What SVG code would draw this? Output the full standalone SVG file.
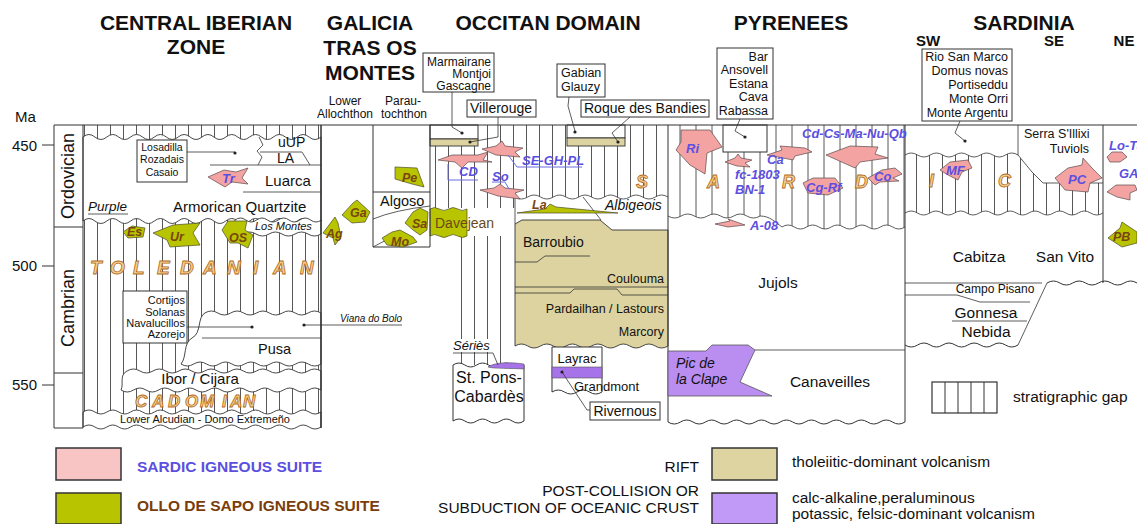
<svg xmlns="http://www.w3.org/2000/svg" width="1137" height="524" viewBox="0 0 1137 524">
<defs>
<style>
text{font-family:"Liberation Sans",Arial,sans-serif;fill:#111}
.title{font-weight:bold;font-size:21px}
.sub{font-weight:bold;font-size:15px}
.ln{stroke:#333;stroke-width:1;fill:none}
.thin{stroke:#333;stroke-width:0.8;fill:none}
.wh{fill:#fff;stroke:#333;stroke-width:0.9}
.bx{fill:#fff;stroke:#333;stroke-width:1}
.pk{fill:#f4a3a3;stroke:#5a4a4a;stroke-width:0.7}
.gr{fill:#b8c400;stroke:#4a4a2a;stroke-width:0.7}
.tan{fill:#dcd3a0;stroke:#333;stroke-width:0.9}
.pur{fill:#b98ef0;stroke:#555;stroke-width:0.8}
.big{font-weight:bold;font-style:italic;fill:#f5cf90;stroke:#b06a20;stroke-width:0.8}
.lb{fill:#5b4fe0;font-weight:bold;font-style:italic;font-size:13px}
.lg{fill:#7a4510;font-weight:bold;font-style:italic;font-size:12.5px}
.blue{stroke:#6a6ae0;stroke-width:1;fill:none}
.hl{stroke:#444;stroke-width:0.9}
.dot{fill:#222}
</style>
<pattern id="h13" patternUnits="userSpaceOnUse" width="13" height="20"><path d="M6.5,0V20" stroke="#444" stroke-width="0.9"/></pattern>
<pattern id="h16" patternUnits="userSpaceOnUse" width="16" height="20"><path d="M8,0V20" stroke="#444" stroke-width="0.9"/></pattern>
</defs>
<rect width="1137" height="524" fill="#fff"/>

<g id="titles">
<text class="title" x="196" y="30" text-anchor="middle">CENTRAL IBERIAN</text>
<text class="title" x="196" y="54" text-anchor="middle">ZONE</text>
<text class="title" x="370" y="30" text-anchor="middle">GALICIA</text>
<text class="title" x="370" y="55" text-anchor="middle">TRAS OS</text>
<text class="title" x="370" y="80" text-anchor="middle">MONTES</text>
<text class="title" x="548" y="30" text-anchor="middle">OCCITAN DOMAIN</text>
<text class="title" x="791" y="30" text-anchor="middle">PYRENEES</text>
<text class="title" x="1024" y="30" text-anchor="middle">SARDINIA</text>
<text class="sub" x="928" y="46" text-anchor="middle">SW</text>
<text class="sub" x="1054" y="46" text-anchor="middle">SE</text>
<text class="sub" x="1124" y="46" text-anchor="middle">NE</text>
</g>

<g id="age-axis">
<text x="15" y="122" font-size="15">Ma</text>
<text x="37" y="151" font-size="15" text-anchor="end">450</text>
<text x="37" y="271" font-size="15" text-anchor="end">500</text>
<text x="37" y="390" font-size="15" text-anchor="end">550</text>
<path class="ln" d="M42,145H54M42,266H54M42,385H54"/>
<path class="ln" d="M54,125V428H83M54,227H83M54,373H83"/>
<text transform="translate(74,176) rotate(-90)" font-size="18" text-anchor="middle">Ordovician</text>
<text transform="translate(74,308) rotate(-90)" font-size="18" text-anchor="middle">Cambrian</text>
</g>

<g id="central-iberian">
<rect x="83" y="125" width="238" height="299" fill="url(#h13)"/>
<path class="wh" d="M83,137 q5.95,-5 11.9,0 t11.9,0 t11.9,0 t11.9,0 t11.9,0 t11.9,0 t11.9,0 t11.9,0 t11.9,0 t11.9,0 t11.9,0 t11.9,0 t11.9,0 t11.9,0 t11.9,0 t11.9,0 t11.9,0 t11.9,0 t11.9,0 t11.9,0 L321,137 L321,221 q-5.95,5 -11.9,0 t-11.9,0 t-11.9,0 t-11.9,0 t-11.9,0 t-11.9,0 t-11.9,0 t-11.9,0 t-11.9,0 t-11.9,0 t-11.9,0 t-11.9,0 t-11.9,0 t-11.9,0 t-11.9,0 t-11.9,0 t-11.9,0 t-11.9,0 t-11.9,0 t-11.9,0 L83,221 Z"/>
<path class="wh" d="M235,220 q5.4,-4 10.8,0 t10.8,0 t10.8,0 t10.8,0 t10.8,0 t10.8,0 t10.8,0 t10.8,0 L321,220 L321,234 q-6.5,4 -13,0 t-13,0 t-13,0 t-13,0 t-13,0 t-13,0 L243,234 C236,232 233,226 235,220 Z"/>
<path class="wh" d="M321,313 q-6.45,-4 -12.9,0 t-12.9,0 t-12.9,0 t-12.9,0 t-12.9,0 t-12.9,0 t-12.9,0 t-12.9,0 t-12.9,0 L205,313 C197,317 202,333 192,338 C183,343 187,357 181,364 q6.36,4 12.73,0 t12.73,0 t12.73,0 t12.73,0 t12.73,0 t12.73,0 t12.73,0 t12.73,0 t12.73,0 t12.73,0 t12.73,0 L321,364 Z"/>
<path class="wh" d="M321,371 q-6.47,-4 -12.93,0 t-12.93,0 t-12.93,0 t-12.93,0 t-12.93,0 t-12.93,0 t-12.93,0 t-12.93,0 t-12.93,0 t-12.93,0 t-12.93,0 t-12.93,0 t-12.93,0 t-12.93,0 t-12.93,0 L127,371 C119,375 124,384 121,390 q6.25,4 12.5,0 t12.5,0 t12.5,0 t12.5,0 t12.5,0 t12.5,0 t12.5,0 t12.5,0 t12.5,0 t12.5,0 t12.5,0 t12.5,0 t12.5,0 t12.5,0 t12.5,0 t12.5,0 L321,390 Z"/>
<path class="wh" d="M83,412 q5.95,-4 11.9,0 t11.9,0 t11.9,0 t11.9,0 t11.9,0 t11.9,0 t11.9,0 t11.9,0 t11.9,0 t11.9,0 t11.9,0 t11.9,0 t11.9,0 t11.9,0 t11.9,0 t11.9,0 t11.9,0 t11.9,0 t11.9,0 t11.9,0 L321,412 L321,427 q-5.95,4 -11.9,0 t-11.9,0 t-11.9,0 t-11.9,0 t-11.9,0 t-11.9,0 t-11.9,0 t-11.9,0 t-11.9,0 t-11.9,0 t-11.9,0 t-11.9,0 t-11.9,0 t-11.9,0 t-11.9,0 t-11.9,0 t-11.9,0 t-11.9,0 t-11.9,0 t-11.9,0 L83,427 Z"/>
<path class="ln" d="M83,125V428M321,125V428"/>
<path class="thin" d="M259,137 L263,145 L257,151 L262,157 L258,165 M260,152 H302 L310,165 M210,165 H321 M243,192 H321 M202,338 H321"/>
<rect class="bx" x="137" y="140" width="50" height="42"/>
<text x="162" y="151" font-size="10.5" text-anchor="middle">Losadilla</text>
<text x="162" y="163" font-size="10.5" text-anchor="middle">Rozadais</text>
<text x="162" y="176" font-size="10.5" text-anchor="middle">Casaio</text>
<text x="278" y="147" font-size="14">uUP</text>
<text x="277" y="163" font-size="14">LA</text>
<text x="265" y="186" font-size="15">Luarca</text>
<text x="173" y="212" font-size="15">Armorican Quartzite</text>
<text x="88" y="211" font-size="13.5" font-style="italic">Purple</text>
<path class="thin" d="M88,214H128"/>
<text x="255" y="230" font-size="11" font-style="italic">Los Montes</text>
<rect class="bx" x="123" y="291" width="64" height="52"/>
<text x="185" y="304" font-size="11" text-anchor="end">Cortijos</text>
<text x="185" y="316" font-size="11" text-anchor="end">Solanas</text>
<text x="185" y="327" font-size="11" text-anchor="end">Navalucillos</text>
<text x="185" y="338" font-size="11" text-anchor="end">Azorejo</text>
<text x="258" y="354" font-size="14.5">Pusa</text>
<text x="200" y="384" font-size="15" text-anchor="middle">Ibor  /  Cijara</text>
<text x="205" y="423" font-size="11" text-anchor="middle">Lower Alcudian - Domo Extremeño</text>
<text x="340" y="322" font-size="10" font-style="italic">Viana do Bolo</text>
<text class="big" font-size="19" x="90 110 133 157 180 203 227 253 273 300" y="274">TOLEDANIAN</text>
<text class="big" font-size="17" x="135 152 168 185 200 222 230 243" y="407">CADOMIAN</text>
<polygon class="pk" points="208,177 224,170 236,172 248,168 242,178 248,184 232,182 225,187"/>
<text class="lb" x="222" y="183" font-size="12">Tr</text>
<polygon class="gr" points="123,232 132,226 145,228 143,237 128,238"/>
<text class="lg" x="127" y="236">Es</text>
<polygon class="gr" points="153,233 173,225 200,223 193,233 200,245 170,247 167,240"/>
<text class="lg" x="170" y="241">Ur</text>
<polygon class="gr" points="222,230 228,221 247,221 245,230 253,235 248,248 238,243 230,243"/>
<text class="lg" x="229" y="242">OS</text>
</g>

<g id="galicia">
<path class="ln" d="M321,125V428M373,125V247H430M373,192H430"/>
<path class="thin" d="M373,219 Q395,210 430,206 M373,247 L390,238"/>
<text x="345" y="105" font-size="12" text-anchor="middle">Lower</text>
<text x="345" y="118" font-size="12" text-anchor="middle">Allochthon</text>
<text x="403" y="105" font-size="12" text-anchor="middle">Parau-</text>
<text x="404" y="118" font-size="12" text-anchor="middle">tochthon</text>
<text x="380" y="206" font-size="14.5">Algoso</text>
<polygon class="gr" points="323,233 335,217 338,223 341,237 335,245 333,238"/>
<text class="lg" x="326" y="238">Ag</text>
<polygon class="gr" points="342,215 353,203 357,200 370,212 365,222 352,223"/>
<text class="lg" x="350" y="217">Ga</text>
<polygon class="gr" points="395,167 417,168 424,187 412,184 395,179"/>
<text class="lg" x="402" y="182">Pe</text>
<polygon class="gr" points="405,223 413,212 420,208 428,212 427,230 420,235 413,230"/>
<text class="lg" x="412" y="228">Sa</text>
<polygon class="gr" points="382,238 392,232 400,230 413,237 417,242 403,247 387,245"/>
<text class="lg" x="391" y="246">Mo</text>
</g>

<g id="occitan">
<path fill="url(#h13)" d="M430,125 H668 V197 q-6.375,-4 -12.75,0 t-12.75,0 t-12.75,0 t-12.75,0 t-12.75,0 t-12.75,0 t-12.75,0 t-12.75,0 t-12.75,0 t-12.75,0 t-12.75,0 t-12.75,0 L515,197 L515,208 H430 Z"/>
<path class="thin" d="M668,197 q-6.375,-4 -12.75,0 t-12.75,0 t-12.75,0 t-12.75,0 t-12.75,0 t-12.75,0 t-12.75,0 t-12.75,0 t-12.75,0 t-12.75,0 t-12.75,0 t-12.75,0 L515,197"/>
<path class="hl" d="M461.5,236V365M474.5,236V365M487.5,236V365M500.5,236V366"/>
<rect class="bx" x="430" y="125" width="48" height="14"/>
<rect class="tan" x="430" y="139" width="48" height="7"/>
<rect class="bx" x="567" y="125" width="58" height="13"/>
<rect class="tan" x="567" y="138" width="58" height="8"/>
<path class="gr" d="M430,209 q4.6,-3 9.25,0 t9.25,0 t9.25,0 t9.25,0 L467,236 q-4.6,3 -9.25,0 t-9.25,0 t-9.25,0 t-9.25,0 Z"/>
<text x="435" y="228" font-size="14" style="fill:#6b4a17">Davejean</text>
<path class="tan" d="M515,224 L522,220 L600,220 L612,230 L668,230 L668,346 q-6.375,4 -12.75,0 t-12.75,0 t-12.75,0 t-12.75,0 t-12.75,0 t-12.75,0 t-12.75,0 t-12.75,0 t-12.75,0 t-12.75,0 t-12.75,0 t-12.75,0 L515,346 Z"/>
<path class="thin" d="M515,197V224 M583,197 L601,220 M515,262 H537 L545,256 H590 M515,287 H668 M515,293 H570 L574,289 H617 L622,295 H668"/>
<polygon class="gr" points="517,213 545,209 550,204 556,207 618,213"/>
<text class="lg" x="532" y="209">La</text>
<text x="605" y="210" font-size="14" font-style="italic">Albigeois</text>
<text x="523" y="247" font-size="14">Barroubio</text>
<text x="664" y="283" font-size="12.5" text-anchor="end">Coulouma</text>
<text x="664" y="313" font-size="12.5" text-anchor="end">Pardailhan / Lastours</text>
<text x="664" y="336" font-size="12.5" text-anchor="end">Marcory</text>
<path class="bx" d="M552,347 H602 V392 q-6.25,4 -12.5,0 t-12.5,0 t-12.5,0 t-12.5,0 L552,392 Z"/>
<rect x="552" y="367" width="50" height="11" fill="#a673e8" stroke="#555" stroke-width="0.6"/>
<text x="577" y="363" font-size="13" text-anchor="middle">Layrac</text>
<text x="574" y="391" font-size="13">Grandmont</text>
<rect class="bx" x="590" y="402" width="70" height="18"/>
<text x="625" y="416" font-size="14" text-anchor="middle">Rivernous</text>
<path class="bx" d="M453,365 q5.92,-4 11.83,0 t11.83,0 t11.83,0 t11.83,0 t11.83,0 t11.83,0 L524,365 L524,421 q-5.92,4 -11.83,0 t-11.83,0 t-11.83,0 t-11.83,0 t-11.83,0 t-11.83,0 L453,421 Z"/>
<path d="M488,367 C495,362 510,362 524,364 L524,369 C510,368 495,369 488,367 Z" fill="#a673e8" stroke="#555" stroke-width="0.6"/>
<text x="489" y="383" font-size="16" text-anchor="middle">St. Pons-</text>
<text x="489" y="402" font-size="16" text-anchor="middle">Cabardès</text>
<rect x="451" y="339" width="44" height="13" fill="#fff"/>
<text x="453" y="350" font-size="13" font-style="italic">Sériès</text>
<rect class="bx" x="423" y="53" width="71" height="39"/>
<text x="491" y="66" font-size="12" text-anchor="end">Marmairane</text>
<text x="491" y="78" font-size="12" text-anchor="end">Montjoi</text>
<text x="491" y="90" font-size="12" text-anchor="end">Gascagne</text>
<rect class="bx" x="467" y="100" width="69" height="17"/>
<text x="501" y="113" font-size="14" text-anchor="middle">Villerouge</text>
<rect class="bx" x="557" y="64" width="48" height="33"/>
<text x="561" y="77" font-size="12.5">Gabian</text>
<text x="561" y="91" font-size="12.5">Glauzy</text>
<rect class="bx" x="581" y="100" width="128" height="17"/>
<text x="584" y="113" font-size="14">Roque des Bandies</text>
<polygon class="pk" points="438,160 452,155 478,155 488,152 483,160 492,162 468,162 462,168 455,162"/>
<polygon class="pk" points="482,149 496,146 502,141 505,146 523,148 515,152 520,157 496,155"/>
<polygon class="pk" points="480,190 494,188 500,184 505,188 524,190 515,193 520,199 498,196"/>
<text class="lb" x="459" y="176">CD</text>
<text class="lb" x="522" y="165">SE-GH-PL</text>
<text class="lb" x="492" y="181">So</text>
<text class="big" font-size="18" x="636" y="188">S</text>
<path class="ln" d="M430,125V247"/>
</g>

<g id="pyrenees">
<path fill="url(#h16)" d="M668,125 H905 V227 q-6.15,4 -12.3,0 t-12.3,0 t-12.3,0 t-12.3,0 t-12.3,0 t-12.3,0 t-12.3,0 t-12.3,0 t-12.3,0 t-12.3,0 L782,227 C775,222 770,216 760,216 q-6.57,4 -13.14,0 t-13.14,0 t-13.14,0 t-13.14,0 t-13.14,0 t-13.14,0 t-13.14,0 L668,216 Z"/>
<path class="thin" d="M905,227 q-6.15,4 -12.3,0 t-12.3,0 t-12.3,0 t-12.3,0 t-12.3,0 t-12.3,0 t-12.3,0 t-12.3,0 t-12.3,0 t-12.3,0 L782,227 C775,222 770,216 760,216 q-6.57,4 -13.14,0 t-13.14,0 t-13.14,0 t-13.14,0 t-13.14,0 t-13.14,0 t-13.14,0 L668,216"/>
<rect class="bx" x="723" y="125" width="44" height="27"/>
<path class="ln" d="M668,125V422M905,125V422M668,422 q6.24,4 12.47,0 t12.47,0 t12.47,0 t12.47,0 t12.47,0 t12.47,0 t12.47,0 t12.47,0 t12.47,0 t12.47,0 t12.47,0 t12.47,0 t12.47,0 t12.47,0 t12.47,0 t12.47,0 t12.47,0 t12.47,0 t12.47,0 L905,422"/>
<path class="thin" d="M755,350H905"/>
<path class="pur" d="M668,351 L706,351 L712,345 L748,345 L755,350 L740,382 L772,396 L668,396 Z"/>
<text x="676" y="368" font-size="14" font-style="italic">Pic de</text>
<text x="676" y="384" font-size="14" font-style="italic">la Clape</text>
<text x="778" y="288" font-size="15.5" text-anchor="middle">Jujols</text>
<text x="830" y="387" font-size="15.5" text-anchor="middle">Canaveilles</text>
<rect class="bx" x="717" y="48" width="56" height="71"/>
<text x="768" y="61" font-size="12.5" text-anchor="end">Bar</text>
<text x="768" y="74" font-size="12.5" text-anchor="end">Ansovell</text>
<text x="768" y="88" font-size="12.5" text-anchor="end">Estana</text>
<text x="768" y="101" font-size="12.5" text-anchor="end">Cava</text>
<text x="768" y="115" font-size="12.5" text-anchor="end">Rabassa</text>
<polygon class="pk" points="681,130 710,130 722,147 707,153 705,174 690,165 676,150 681,142"/>
<polygon class="pk" points="725,162 735,158 738,154 741,158 752,160 745,163 750,167 737,166"/>
<polygon class="pk" points="767,155 782,150 780,146 805,148 812,152 795,156 793,160 778,157"/>
<polygon class="pk" points="826,155 850,146 878,147 875,154 888,158 860,162 855,168"/>
<polygon class="pk" points="868,178 882,170 895,168 902,174 893,178 899,181 880,182 875,185"/>
<polygon class="pk" points="803,183 813,178 835,178 843,188 828,195 808,193"/>
<polygon class="pk" points="715,224 730,221 728,219 745,225 728,227"/>
<text class="lb" x="686" y="153">Ri</text>
<text class="lb" x="806" y="192">Cg-Rf</text>
<text class="lb" x="874" y="181">Co</text>
<text class="lb" x="802" y="138">Cd-Cs-Ma-Nu-Qb</text>
<text class="lb" x="767" y="164">Ca</text>
<text class="lb" x="735" y="179">fc-1803</text>
<text class="lb" x="735" y="194">BN-1</text>
<text class="lb" x="750" y="230">A-08</text>
<text class="big" font-size="18" x="707" y="188">A</text>
<text class="big" font-size="18" x="782" y="188">R</text>
<text class="big" font-size="18" x="855" y="188">D</text>
</g>

<g id="sardinia">
<path fill="url(#h13)" d="M905,155 q6.28,-4 12.56,0 t12.56,0 t12.56,0 t12.56,0 t12.56,0 t12.56,0 t12.56,0 t12.56,0 t12.56,0 L1018,155 L1032,172 L1043,183 H1103 V213 q-6.19,4 -12.375,0 t-12.375,0 t-12.375,0 t-12.375,0 t-12.375,0 t-12.375,0 t-12.375,0 t-12.375,0 t-12.375,0 t-12.375,0 t-12.375,0 t-12.375,0 t-12.375,0 t-12.375,0 t-12.375,0 t-12.375,0 L905,213 Z"/>
<path class="thin" d="M905,155 q6.28,-4 12.56,0 t12.56,0 t12.56,0 t12.56,0 t12.56,0 t12.56,0 t12.56,0 t12.56,0 t12.56,0 L1018,155 M1018,125 V155 L1032,172 L1043,183 H1103 M1103,213 q-6.19,4 -12.375,0 t-12.375,0 t-12.375,0 t-12.375,0 t-12.375,0 t-12.375,0 t-12.375,0 t-12.375,0 t-12.375,0 t-12.375,0 t-12.375,0 t-12.375,0 t-12.375,0 t-12.375,0 t-12.375,0 t-12.375,0 L905,213"/>
<path class="ln" d="M1103,125V283"/>
<path class="thin" d="M905,283 H1042 M905,295 H957 L980,302 H1030 M952,321 H1027 M1047,283 L1018,345"/>
<path class="ln" d="M905,345 q6.28,4 12.56,0 t12.56,0 t12.56,0 t12.56,0 t12.56,0 t12.56,0 t12.56,0 t12.56,0 t12.56,0 L1018,345 M1047,283 q6.43,-4 12.86,0 t12.86,0 t12.86,0 t12.86,0 t12.86,0 t12.86,0 t12.86,0 L1137,283"/>
<rect class="bx" x="922" y="49" width="90" height="72"/>
<text x="1008" y="61" font-size="12.5" text-anchor="end">Rio San Marco</text>
<text x="1008" y="75" font-size="12.5" text-anchor="end">Domus novas</text>
<text x="1008" y="89" font-size="12.5" text-anchor="end">Portiseddu</text>
<text x="1008" y="103" font-size="12.5" text-anchor="end">Monte Orri</text>
<text x="1008" y="117" font-size="12.5" text-anchor="end">Monte Argentu</text>
<text x="1024" y="138" font-size="12.5">Serra S'Illixi</text>
<text x="1089" y="153" font-size="12.5" text-anchor="end">Tuviols</text>
<text x="979" y="262" font-size="15.5" text-anchor="middle">Cabitza</text>
<text x="1065" y="262" font-size="15.5" text-anchor="middle">San Vito</text>
<text x="995" y="293" font-size="12" text-anchor="middle">Campo Pisano</text>
<text x="986" y="318" font-size="15.5" text-anchor="middle">Gonnesa</text>
<text x="986" y="337" font-size="15.5" text-anchor="middle">Nebida</text>
<polygon class="pk" points="940,170 950,162 968,160 972,168 962,172 958,180 948,175"/>
<text class="lb" x="946" y="175">MF</text>
<polygon class="pk" points="1055,178 1068,168 1082,165 1083,158 1092,168 1102,178 1090,183 1088,192 1065,190"/>
<text class="lb" x="1068" y="184">PC</text>
<polygon class="pk" points="1107,157 1112,152 1122,152 1127,157 1120,162 1110,162"/>
<text class="lb" x="1109" y="150">Lo-Ta</text>
<polygon class="pk" points="1107,192 1116,185 1135,185 1137,190 1130,193 1130,200 1117,197"/>
<text class="lb" x="1119" y="178">GA</text>
<polygon class="gr" points="1108,238 1120,228 1122,222 1137,232 1137,243 1122,247"/>
<text class="lg" x="1113" y="241">PB</text>
<text class="big" font-size="18" x="929" y="187">I</text>
<text class="big" font-size="18" x="998" y="187">C</text>
</g>

<g id="top-frame">
<path class="ln" d="M54,125H1137"/>
</g>

<g id="connectors">
<path class="thin" d="M187,152 H235 M187,327 H252 M304,325 H402 M452,92 V127 L462,133 M498,117 V137 L470,142 M569,97 L568,106 L575,131 M630,117 L612,133 L618,142 M740,119 L735,131 L745,137 M960,121 L955,133 L965,141 M562,372 L587,410 H590 M453,353 H493 L498,365"/>
<circle class="dot" cx="235" cy="153" r="1.6"/>
<circle class="dot" cx="252" cy="327" r="1.6"/>
<circle class="dot" cx="304" cy="325" r="1.6"/>
<circle class="dot" cx="462" cy="133" r="1.6"/>
<circle class="dot" cx="470" cy="142" r="1.6"/>
<circle class="dot" cx="575" cy="132" r="1.6"/>
<circle class="dot" cx="618" cy="142" r="1.6"/>
<circle class="dot" cx="745" cy="137" r="1.6"/>
<circle class="dot" cx="965" cy="141" r="1.6"/>
<circle class="dot" cx="562" cy="372" r="1.6"/>
<path class="blue" d="M448,164 V180 H478 M508,155 L517,167 H582 M492,182 H505 L509,189"/>
</g>

<g id="legend">
<rect x="932" y="382" width="65" height="31" fill="#fff" stroke="#333" stroke-width="1.2"/>
<path class="ln" d="M945,382V413M958,382V413M971,382V413M984,382V413"/>
<text x="1013" y="402" font-size="15.5">stratigraphic gap</text>
<rect x="56" y="448" width="65" height="32" fill="#f8c4c4" stroke="#333" stroke-width="1.5"/>
<text x="137" y="472" font-size="15.5" font-weight="bold" style="fill:#5b4fe0">SARDIC IGNEOUS SUITE</text>
<rect x="56" y="493" width="65" height="31" fill="#b8c400" stroke="#333" stroke-width="1.5"/>
<text x="137" y="511" font-size="15.5" font-weight="bold" style="fill:#7a3d0a">OLLO DE SAPO IGNEOUS SUITE</text>
<text x="699" y="472" font-size="15.5" text-anchor="end">RIFT</text>
<text x="699" y="496" font-size="15.5" text-anchor="end">POST-COLLISION OR</text>
<text x="699" y="513" font-size="15.5" text-anchor="end">SUBDUCTION OF OCEANIC CRUST</text>
<rect x="712" y="448" width="65" height="32" fill="#ddd4a2" stroke="#333" stroke-width="1.5"/>
<rect x="712" y="493" width="65" height="31" fill="#c09af6" stroke="#333" stroke-width="1.5"/>
<text x="792" y="467" font-size="15.5">tholeiitic-dominant volcanism</text>
<text x="792" y="503" font-size="15.5">calc-alkaline,peraluminous</text>
<text x="792" y="519" font-size="15.5">potassic, felsic-dominant volcanism</text>
</g>
</svg>
